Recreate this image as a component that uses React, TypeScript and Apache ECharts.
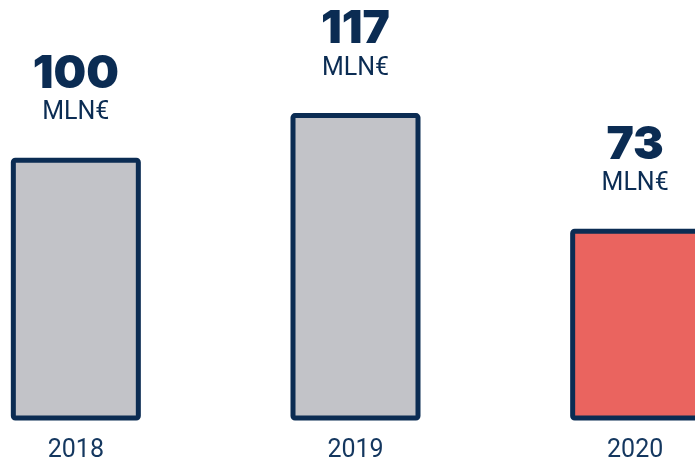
import React, { useEffect, useRef } from "react";
import * as echarts from "echarts";

const categories = ["2018", "2019", "2020"];
const values = [100, 117, 73];
const unitLabel = "MLN€";

const NAVY = "#0b2c53";
const GRAY = "#c2c3c8";
const RED = "#ea645f";

export default function App() {
  const ref = useRef<HTMLDivElement>(null);
  useEffect(() => {
    document.body.style.margin = "0";
    const chart = echarts.init(ref.current!, null, { renderer: "svg" });
    chart.setOption({
      animation: false,
      grid: { left: 0, right: 0, top: 0.1, bottom: 38.5, containLabel: false },
      xAxis: {
        type: "category",
        data: categories,
        axisLine: { show: false },
        axisTick: { show: false },
        axisLabel: {
          color: "#14375f",
          fontFamily: "Roboto",
          fontSize: 25,
          lineHeight: 24,
          margin: 16,
        },
      },
      yAxis: {
        type: "value",
        min: 0,
        max: 160,
        show: false,
        splitLine: { show: false },
      },
      series: [
        {
          type: "bar",
          barWidth: 130,
          data: values.map((v, i) => ({
            value: v,
            itemStyle: {
              color: i === 2 ? RED : GRAY,
              borderColor: NAVY,
              borderWidth: 5,
              borderRadius: 2,
            },
          })),
          label: {
            show: true,
            position: "top",
            distance: 33,
            formatter: (p: any) => `{a|${p.value}}\n{b|${unitLabel}}`,
            rich: {
              a: {
                fontFamily: "Inter",
                fontWeight: 900,
                fontSize: 46,
                color: NAVY,
                lineHeight: 52,
                align: "center",
              },
              b: {
                fontFamily: "Roboto",
                fontSize: 25,
                color: NAVY,
                lineHeight: 28,
                align: "center",
              },
            },
          },
        },
      ],
    });
    return () => chart.dispose();
  }, []);
  return (
    <div style={{ position: "fixed", left: 0, top: 0, width: 695, height: 461, overflow: "hidden" }}>
      <div ref={ref} style={{ position: "absolute", left: -64, top: 0, width: 839, height: 461 }} />
    </div>
  );
}
